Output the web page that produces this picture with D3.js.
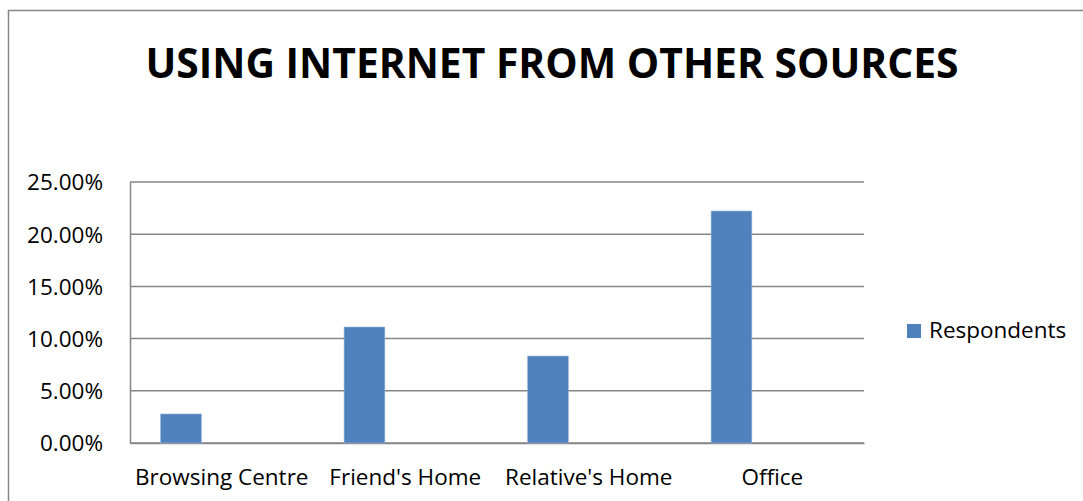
<!DOCTYPE html>
<html>
<head>
<meta charset="utf-8">
<script src="https://cdn.jsdelivr.net/npm/d3@7"></script>
<style>
  body { margin: 0; background: #fff; }
  text { font-family: "Open Sans", "Noto Sans", sans-serif; fill: #000; }
</style>
</head>
<body>
<div id="chart"></div>
<script>
var categories = ["Browsing Centre", "Friend's Home", "Relative's Home", "Office"];
var respondents = [0.0278, 0.1111, 0.0833, 0.2222];
var seriesNames = ["Respondents", "s2", "s3"];
var yTicks = [0, 0.05, 0.10, 0.15, 0.20, 0.25];
var chartTitle = "USING INTERNET FROM OTHER SOURCES";

var W = 1083, H = 501;
var margin = { top: 182, right: 219, bottom: 58, left: 130 },
    width = W - margin.left - margin.right,
    height = H - margin.top - margin.bottom;

var svg = d3.select("#chart").append("svg")
    .attr("width", W)
    .attr("height", H);

// outer chart border (only top + left visible in the crop)
svg.append("rect")
    .attr("x", 8.5).attr("y", 10.5)
    .attr("width", W + 20).attr("height", H + 20)
    .attr("fill", "none")
    .attr("stroke", "#868686")
    .attr("stroke-width", 1.5);

svg.append("text")
    .attr("x", 552)
    .attr("y", 78)
    .style("text-anchor", "middle")
    .style("font-weight", "bold")
    .style("font-size", "40.8px")
    .text(chartTitle);

var g = svg.append("g")
    .attr("transform", "translate(" + margin.left + "," + margin.top + ")");

var x = d3.scaleBand()
    .domain(categories)
    .range([0, width])
    .padding(0);

var xs = d3.scaleBand()
    .domain(seriesNames)
    .range([0, x.bandwidth()])
    .paddingInner(0)
    .paddingOuter(0.75);

var y = d3.scaleLinear()
    .domain([0, 0.25])
    .range([height, 0]);

// gridlines
g.append("g")
    .selectAll("line")
    .data(yTicks)
    .enter().append("line")
    .attr("x1", 0).attr("x2", width)
    .attr("y1", function (d) { return y(d); })
    .attr("y2", function (d) { return y(d); })
    .attr("stroke", "#868686")
    .attr("stroke-width", 1.5);

// y axis
var yAxis = d3.axisLeft(y)
    .tickValues(yTicks)
    .tickSize(0)
    .tickPadding(27)
    .tickFormat(function (d) { return (d * 100).toFixed(2) + "%"; });

var ya = g.append("g").attr("class", "y axis").call(yAxis);
ya.select(".domain").attr("stroke", "#868686").attr("stroke-width", 1.5);
ya.selectAll("text").style("font-size", "22.5px").attr("dy", "0.35em");

// x axis
var xAxis = d3.axisBottom(x).tickSize(0).tickPadding(26);
var xa = g.append("g")
    .attr("class", "x axis")
    .attr("transform", "translate(0," + height + ")")
    .call(xAxis);
xa.select(".domain").attr("stroke", "#868686").attr("stroke-width", 1.5);
xa.selectAll("text").style("font-size", "22.5px");

// bars
g.selectAll(".bar")
    .data(categories)
    .enter().append("rect")
    .attr("class", "bar")
    .attr("x", function (d) { return x(d) + xs("Respondents"); })
    .attr("width", xs.bandwidth())
    .attr("y", function (d, i) { return y(respondents[i]); })
    .attr("height", function (d, i) { return height - y(respondents[i]); })
    .attr("fill", "#4F81BD")
    .attr("stroke", "#9BB7DD")
    .attr("stroke-width", 0.6);

// legend
var legend = svg.append("g").attr("transform", "translate(907,324)");
legend.append("rect")
    .attr("width", 14).attr("height", 14)
    .attr("fill", "#4F81BD");
legend.append("text")
    .attr("x", 22).attr("y", 14)
    .style("font-size", "22.5px")
    .text(seriesNames[0]);
</script>
</body>
</html>
